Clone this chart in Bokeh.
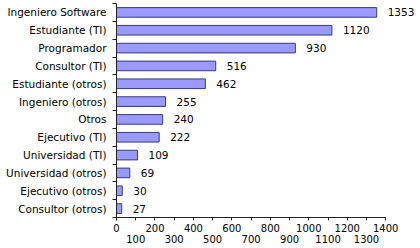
from bokeh.plotting import figure
from bokeh.models import Range1d, FixedTicker, LinearAxis, ColumnDataSource
from bokeh.core.properties import value
from bokeh.embed import file_html
from bokeh.resources import INLINE

categories = ["Ingeniero Software", "Estudiante (TI)", "Programador", "Consultor (TI)",
              "Estudiante (otros)", "Ingeniero (otros)", "Otros", "Ejecutivo (TI)",
              "Universidad (TI)", "Universidad (otros)", "Ejecutivo (otros)", "Consultor (otros)"]
counts = [1353, 1120, 930, 516, 462, 255, 240, 222, 109, 69, 30, 27]
x_ticks = [0, 100, 200, 300, 400, 500, 600, 700, 800, 900, 1000, 1100, 1200, 1300, 1400]

n = len(categories)
ypos = [n - i for i in range(n)]
src = ColumnDataSource(dict(cat=categories, cnt=counts, y=ypos, lbl=[str(c) for c in counts]))

FONT = "DejaVu Sans"
FS = "10px"
FSY = "10.5px"

p = figure(width=420, height=248, output_backend="svg", toolbar_location=None,
           x_range=Range1d(0, 1560), y_range=Range1d(0.5, n + 0.5),
           x_axis_location=None, y_axis_location=None,
           min_border_left=116, min_border_right=4, min_border_top=3, min_border_bottom=31)
p.outline_line_color = None
p.xgrid.visible = False
p.ygrid.visible = False
p.background_fill_color = "white"
p.border_fill_color = "white"

p.hbar(y="y", right="cnt", left=0, height=0.54, source=src,
       fill_color="#9999FF", line_color="#3A3A80", line_width=1)
p.text(x="cnt", y="y", text="lbl", source=src, x_offset=11,
       text_baseline="middle", text_align="left",
       text_font=value(FONT), text_font_size=FSY, text_color="black")

# y axis: labels at centres, ticks at boundaries
yax = LinearAxis(ticker=FixedTicker(ticks=ypos, minor_ticks=[y + 0.5 for y in ypos] + [0.5]))
yax.major_label_overrides = {y: c for y, c in zip(ypos, categories)}
yax.major_tick_out = 0
yax.major_tick_in = 0
yax.minor_tick_out = 4
yax.minor_tick_in = 0
yax.minor_tick_line_color = "#222222"
yax.axis_line_color = "#222222"
yax.major_label_text_font = FONT
yax.major_label_text_font_size = FSY
yax.major_label_text_color = "black"
yax.major_label_standoff = 6
p.add_layout(yax, "left")

# x axis: two rows of labels
xt = FixedTicker(ticks=x_ticks, minor_ticks=[])
xax1 = LinearAxis(ticker=xt, bounds=(x_ticks[0], x_ticks[-1]))
xax1.major_label_overrides = {t: (str(t) if i % 2 == 0 else "") for i, t in enumerate(x_ticks)}
xax1.major_tick_out = 3
xax1.major_tick_in = 0
xax1.major_tick_line_color = "#222222"
xax1.axis_line_color = "#222222"
xax1.major_label_text_font = FONT
xax1.major_label_text_font_size = FS
xax1.major_label_text_color = "black"
xax1.major_label_standoff = 3
p.add_layout(xax1, "below")

xax2 = LinearAxis(ticker=xt, bounds=(x_ticks[0], x_ticks[-1]))
xax2.major_label_overrides = {t: (str(t) if i % 2 == 1 else "") for i, t in enumerate(x_ticks)}
xax2.major_tick_out = 0
xax2.major_tick_in = 0
xax2.axis_line_color = None
xax2.major_tick_line_color = None
xax2.major_label_text_font = FONT
xax2.major_label_text_font_size = FS
xax2.major_label_text_color = "black"
xax2.major_label_standoff = 0
p.add_layout(xax2, "below")

open("out.html", "w").write(file_html(p, INLINE))
